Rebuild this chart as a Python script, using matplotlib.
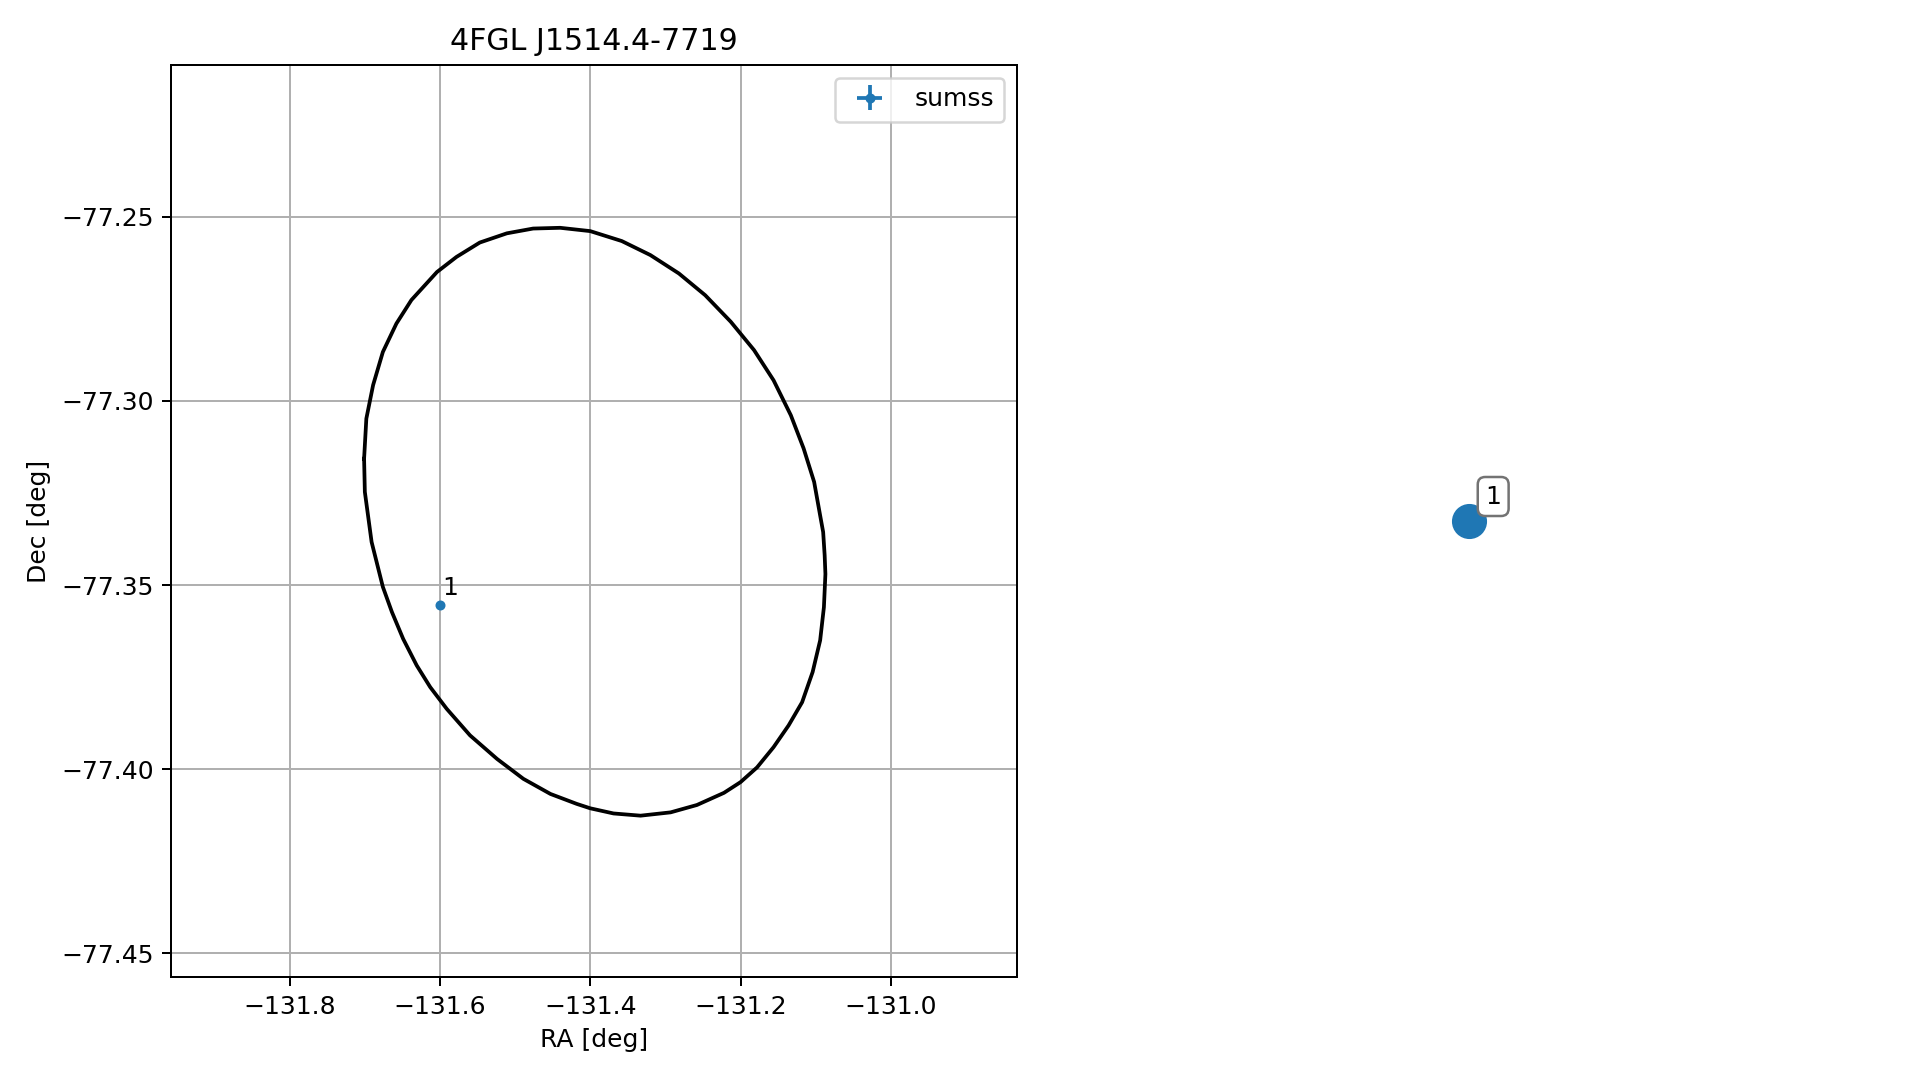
import matplotlib
matplotlib.use("Agg")
import matplotlib.pyplot as plt

DPI = 180
title = "4FGL J1514.4-7719"

# Error ellipse vertices (RA, Dec)
ell_ra = [-131.701, -131.698, -131.689, -131.676, -131.658, -131.638, -131.604, -131.578,
          -131.547, -131.511, -131.476, -131.440, -131.400, -131.358, -131.320, -131.282,
          -131.247, -131.213, -131.182, -131.156, -131.133, -131.116, -131.102, -131.094,
          -131.090, -131.088, -131.087, -131.089, -131.094, -131.104, -131.118, -131.136,
          -131.156, -131.178, -131.200, -131.222, -131.258, -131.293, -131.333, -131.369,
          -131.400, -131.418, -131.453, -131.489, -131.524, -131.560, -131.591, -131.613,
          -131.631, -131.649, -131.664, -131.676, -131.691, -131.700, -131.701]
ell_dec = [-77.3157, -77.3048, -77.2957, -77.2867, -77.2790, -77.2726, -77.2650, -77.2609,
           -77.2570, -77.2545, -77.2532, -77.2530, -77.2539, -77.2566, -77.2604, -77.2654,
           -77.2713, -77.2785, -77.2862, -77.2944, -77.3039, -77.3129, -77.3220, -77.3311,
           -77.3356, -77.3419, -77.3470, -77.3560, -77.3650, -77.3736, -77.3818, -77.3881,
           -77.3940, -77.3995, -77.4035, -77.4064, -77.4097, -77.4117, -77.4126, -77.4120,
           -77.4106, -77.4094, -77.4067, -77.4026, -77.3972, -77.3908, -77.3836, -77.3777,
           -77.3718, -77.3646, -77.3573, -77.3505, -77.3383, -77.3247, -77.3157]

# Counterpart sources
src_ra = [-131.600]
src_dec = [-77.3553]
src_ra_err = [0.0003]
src_dec_err = [0.0003]
src_labels = ["1"]
src_catalog = "sumss"

xlim = (-131.958, -130.832)
ylim = (-77.4564, -77.2088)
xticks = [-131.8, -131.6, -131.4, -131.2, -131.0]
yticks = [-77.45, -77.40, -77.35, -77.30, -77.25]

fig = plt.figure(figsize=(1919 / DPI, 1080 / DPI), dpi=DPI)
ax = fig.add_axes([171 / 1919, 1 - 977 / 1080, 846 / 1919, 912 / 1080])

ax.plot(ell_ra, ell_dec, color="black", lw=1.5)
ax.errorbar(src_ra, src_dec, xerr=src_ra_err, yerr=src_dec_err, fmt="o", ms=3,
            color="tab:blue", label=src_catalog)
for x, y, lab in zip(src_ra, src_dec, src_labels):
    ax.annotate(lab, (x, y), xytext=(1, 4), textcoords="offset points", fontsize=10)

ax.set_xlim(*xlim)
ax.set_ylim(*ylim)
ax.set_xticks(xticks)
ax.set_yticks(yticks)
ax.grid(True)
ax.set_xlabel("RA [deg]")
ax.set_ylabel("Dec [deg]")
ax.set_title(title)
ax.legend(loc="upper right")

# Right panel: source key
ax2 = fig.add_axes([(1469 - 423) / 1919, 1 - 977 / 1080, 846 / 1919, 912 / 1080])
ax2.axis("off")
key_x = [0.0]
key_y = [0.0]
ax2.scatter(key_x, key_y, s=170, color="tab:blue")
for x, y, lab in zip(key_x, key_y, src_labels):
    ax2.annotate(lab, (x, y), xytext=(6.5, 7), textcoords="offset points", fontsize=10,
                 bbox=dict(boxstyle="round", fc="white", ec="0.45", alpha=1.0))
ax2.set_xlim(-1, 1)
ax2.set_ylim(-1, 1)

fig.savefig("out.png", dpi=DPI)
